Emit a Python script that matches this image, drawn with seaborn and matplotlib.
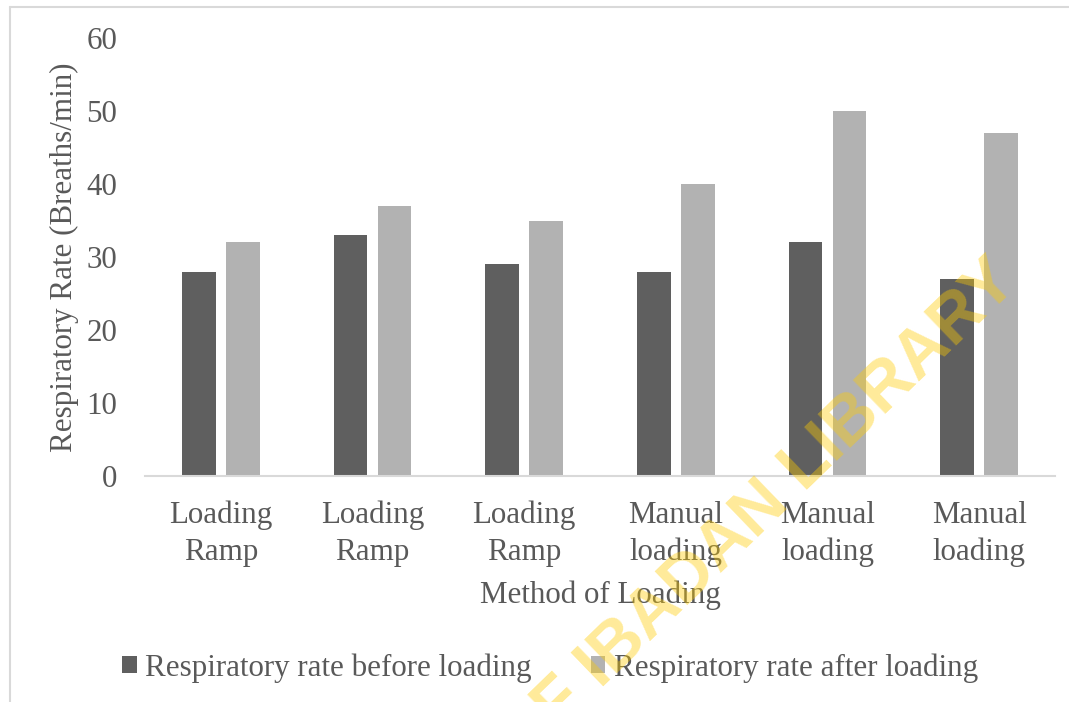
import matplotlib
matplotlib.use("Agg")
import matplotlib.pyplot as plt
import seaborn as sns
import pandas as pd
from matplotlib.patches import Patch
from matplotlib.lines import Line2D

categories = ["Loading Ramp 1", "Loading Ramp 2", "Loading Ramp 3",
              "Manual loading 1", "Manual loading 2", "Manual loading 3"]
tick_labels = ["Loading\nRamp", "Loading\nRamp", "Loading\nRamp",
               "Manual\nloading", "Manual\nloading", "Manual\nloading"]
series_names = ["Respiratory rate before loading", "Respiratory rate after loading"]
before = [28, 33, 29, 28, 32, 27]
after = [32, 37, 35, 40, 50, 47]
yticks = [0, 10, 20, 30, 40, 50, 60]
colors = ["#5f5f5f", "#b2b2b2"]
text_color = "#595959"

df = pd.DataFrame({
    "cat": categories * 2,
    "series": [series_names[0]] * 6 + [series_names[1]] * 6,
    "value": before + after,
})

sns.set_theme(style="white")
plt.rcParams["font.family"] = ["Liberation Serif", "DejaVu Serif"]
fs = 22.3

fig = plt.figure(figsize=(10.69, 7.02), dpi=100)
ax = fig.add_axes([145 / 1069, 1 - 476 / 702, (1055 - 145) / 1069, (476 - 38) / 702])

sns.barplot(data=df, x="cat", y="value", hue="series", order=categories,
            hue_order=series_names, palette=colors, width=0.58, gap=0.23,
            saturation=1, ax=ax, legend=False, edgecolor="none", linewidth=0)

ax.set_ylim(0, 60)
ax.set_yticks(yticks)
ax.set_xlim(-0.5, 5.5)
for s in ["top", "right", "left"]:
    ax.spines[s].set_visible(False)
ax.spines["bottom"].set_color("#d9d9d9")
ax.spines["bottom"].set_linewidth(1.5)
ax.tick_params(axis="both", length=0, labelsize=fs, labelcolor=text_color)
ax.tick_params(axis="y", pad=20)
ax.tick_params(axis="x", pad=18)
ax.set_xticks(range(6))
ax.set_xticklabels(tick_labels, linespacing=1.33)
ax.set_xlabel("Method of Loading", fontsize=fs, color=text_color, labelpad=10)
ax.set_ylabel("Respiratory Rate (Breaths/min)", fontsize=fs, color=text_color, labelpad=5)

handles = [Patch(facecolor=c, edgecolor="none") for c in colors]
fig.legend(handles, series_names, loc="center", bbox_to_anchor=(550 / 1069, 1 - 668 / 702),
           ncol=2, frameon=False, fontsize=fs, labelcolor=text_color,
           handlelength=0.48, handleheight=0.48, handletextpad=0.26, columnspacing=1.9)

# outer chart frame (top and left edges visible)
fig.add_artist(Line2D([10 / 1069, 1.0], [1 - 7 / 702, 1 - 7 / 702], transform=fig.transFigure,
                      color="#d9d9d9", lw=1.5))
fig.add_artist(Line2D([10 / 1069, 10 / 1069], [0, 1 - 7 / 702], transform=fig.transFigure,
                      color="#d9d9d9", lw=1.5))

# watermark
fig.text(1008 / 1069, 1 - 272 / 702, "UNIVERSITY OF IBADAN LIBRARY", rotation=44,
         rotation_mode="anchor", ha="right", va="center", fontsize=49, fontweight="bold",
         family=["Liberation Sans", "DejaVu Sans"], color="#FFCC00", alpha=0.4, zorder=10)

fig.savefig("out.png", dpi=100)
